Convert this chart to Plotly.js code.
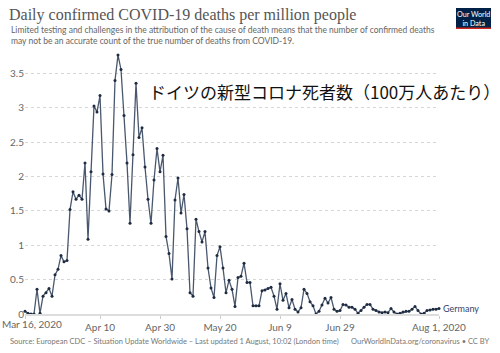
<!DOCTYPE html>
<html>
<head>
<meta charset="utf-8">
<script src="https://cdn.plot.ly/plotly-3.0.1.min.js"></script>
<style>html,body{margin:0;padding:0;background:#fff;}#chart{width:500px;height:353px;}</style>
</head>
<body>
<div id="chart"></div>
<script>
// ---- data ----
const startDate = '2020-03-16';
const germanyDeaths = [
  0.04, 0.01, 0.00, 0.00, 0.36, 0.01, 0.26, 0.31, 0.37, 0.26,
  0.57, 0.65, 0.85, 0.76, 0.78, 1.52, 1.78, 1.67, 1.73, 1.67,
  2.20, 1.09, 2.07, 3.03, 2.94, 3.18, 2.04, 1.53, 1.50, 2.03,
  3.40, 3.77, 3.56, 2.89, 2.20, 1.32, 2.32, 3.36, 2.57, 2.71,
  2.14, 1.67, 1.32, 1.95, 2.41, 2.07, 2.31, 1.13, 0.88, 0.51,
  1.66, 1.98, 1.47, 1.74, 1.24, 0.31, 0.26, 1.38, 1.20, 1.05,
  1.20, 0.67, 0.38, 0.24, 0.85, 0.98, 0.67, 0.31, 0.49, 0.36,
  0.11, 0.53, 0.55, 0.74, 0.46, 0.46, 0.12, 0.12, 0.12, 0.34,
  0.35, 0.37, 0.39, 0.26, 0.07, 0.44, 0.20, 0.30, 0.09, 0.21,
  0.07, 0.03, 0.09, 0.36, 0.30, 0.18, 0.12, 0.00, 0.04, 0.13,
  0.23, 0.16, 0.24, 0.07, 0.04, 0.05, 0.14, 0.13, 0.10, 0.10,
  0.07, 0.01, 0.05, 0.10, 0.14, 0.14, 0.07, 0.05, 0.03, 0.02,
  0.03, 0.02, 0.08, 0.03, 0.00, 0.01, 0.03, 0.04, 0.04, 0.07,
  0.11, 0.05, 0.00, 0.01, 0.05, 0.06, 0.07, 0.07, 0.08
];
const seriesName = 'Germany';
const xTickVals = ['2020-03-16', '2020-04-10', '2020-04-30', '2020-05-20', '2020-06-09', '2020-06-29', '2020-08-01'];
const xTickText = ['Mar 16, 2020', 'Apr 10', 'Apr 30', 'May 20', 'Jun 9', 'Jun 29', 'Aug 1, 2020'];
const yTickVals = [0, 0.5, 1, 1.5, 2, 2.5, 3, 3.5];
const yTickText = ['0', '0.5', '1', '1.5', '2', '2.5', '3', '3.5'];
const titleText = 'Daily confirmed COVID-19 deaths per million people';
const subtitleLines = [
  'Limited testing and challenges in the attribution of the cause of death means that the number of confirmed deaths',
  'may not be an accurate count of the true number of deaths from COVID-19.'
];
const sourceText = 'Source: European CDC – Situation Update Worldwide – Last updated 1 August, 10:02 (London time)';
const creditText = 'OurWorldInData.org/coronavirus • CC BY';
const logoText = 'Our World<br>in Data';
const overlayText = 'ドイツの新型コロナ死者数（100万人あたり）';

// dates for each day of the series
const dates = [];
{
  const d0 = new Date(startDate + 'T00:00:00Z');
  for (let i = 0; i < germanyDeaths.length; i++) {
    const d = new Date(d0.getTime() + i * 86400000);
    dates.push(d.toISOString().slice(0, 10));
  }
}

// ---- layout helpers (pixel -> paper) ----
const W = 500, H = 353;
const M = {l: 25, r: 61, t: 53, b: 39};
const PW = W - M.l - M.r, PH = H - M.t - M.b;
const px = x => (x - M.l) / PW;
const py = y => (H - M.b - y) / PH;

const sans = 'Lato, "Noto Sans", sans-serif';
const tickFont = {family: sans, size: 10, color: '#666'};

// first tick label is drawn left-aligned so it stays inside the picture
const axisTickText = xTickText.map((t, i) => (i === 0 ? ' ' : t));

const trace = {
  type: 'scatter',
  mode: 'lines+markers',
  x: dates,
  y: germanyDeaths,
  name: seriesName,
  line: {color: '#4a586e', width: 1.3},
  marker: {color: '#1e2b40', size: 3},
  hoverinfo: 'skip',
  cliponaxis: false
};

const annotations = [
  {xref: 'paper', yref: 'paper', x: px(9), y: py(30), xanchor: 'left', yanchor: 'middle',
   text: subtitleLines[0], showarrow: false, font: {family: sans, size: 8.5, color: '#666'}},
  {xref: 'paper', yref: 'paper', x: px(9), y: py(41), xanchor: 'left', yanchor: 'middle',
   text: subtitleLines[1], showarrow: false, font: {family: sans, size: 8.5, color: '#666'}},
  {xref: 'paper', yref: 'paper', x: px(8), y: py(341), xanchor: 'left', yanchor: 'middle',
   text: sourceText, showarrow: false, font: {family: sans, size: 7.5, color: '#777'}},
  {xref: 'paper', yref: 'paper', x: px(491), y: py(341), xanchor: 'right', yanchor: 'middle',
   text: creditText, showarrow: false, font: {family: sans, size: 7.5, color: '#777'}},
  {xref: 'paper', yref: 'paper', x: px(473.5), y: py(18.5), xanchor: 'center', yanchor: 'middle',
   text: logoText, showarrow: false, font: {family: sans, size: 7.2, color: '#fff'}},
  {xref: 'x', yref: 'paper', x: xTickVals[0], y: py(324), xanchor: 'left', yanchor: 'middle',
   xshift: -25, text: xTickText[0], showarrow: false, font: tickFont},
  {xref: 'x', yref: 'y', x: dates[dates.length - 1], y: germanyDeaths[germanyDeaths.length - 1],
   xanchor: 'left', yanchor: 'middle', xshift: 2, text: seriesName, showarrow: false,
   font: {family: sans, size: 9, color: '#34456e'}},
  {xref: 'paper', yref: 'paper', x: px(147), y: py(91), xanchor: 'left', yanchor: 'middle',
   text: overlayText, showarrow: false, font: {family: '"Noto Sans CJK JP", sans-serif', size: 17, color: '#111'}}
];

const shapes = [
  {type: 'rect', xref: 'paper', yref: 'paper', x0: px(456), x1: px(491), y0: py(8), y1: py(29),
   fillcolor: '#002147', line: {width: 0}, layer: 'below'},
  {type: 'rect', xref: 'paper', yref: 'paper', x0: px(456), x1: px(491), y0: py(27.5), y1: py(29),
   fillcolor: '#ce261e', line: {width: 0}, layer: 'below'}
];

const layout = {
  width: W, height: H,
  margin: M,
  paper_bgcolor: '#fff', plot_bgcolor: 'rgba(0,0,0,0)',
  showlegend: false,
  title: {text: titleText, xref: 'container', yref: 'container', x: 9 / W, xanchor: 'left',
          y: 1 - 14 / H, yanchor: 'middle',
          font: {family: '"Liberation Serif", "DejaVu Serif", serif', size: 16, color: '#555'}},
  xaxis: {
    type: 'date', range: ['2020-03-16', '2020-08-01'],
    tickmode: 'array', tickvals: xTickVals, ticktext: axisTickText,
    showgrid: false, zeroline: false,
    showline: true, linecolor: '#ddd', linewidth: 1.5,
    ticks: 'outside', ticklen: 3, tickcolor: '#ccc',
    tickfont: tickFont, fixedrange: true
  },
  yaxis: {
    range: [0, 3.8], tickmode: 'array', tickvals: yTickVals, ticktext: yTickText,
    showgrid: true, gridcolor: '#d6d6d6', griddash: 'dot', gridwidth: 1,
    zeroline: false, showline: false, ticks: '',
    tickfont: tickFont, fixedrange: true
  },
  annotations: annotations,
  shapes: shapes
};

Plotly.newPlot('chart', [trace], layout, {staticPlot: true, displayModeBar: false});
</script>
</body>
</html>
